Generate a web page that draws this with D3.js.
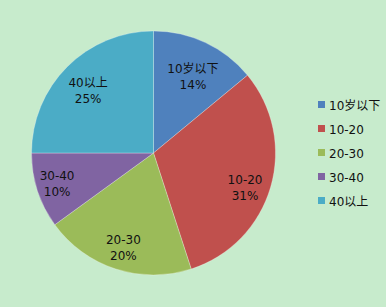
<!DOCTYPE html>
<html><head><meta charset="utf-8">
<script src="https://cdn.jsdelivr.net/npm/d3@7"></script>
<style>
html,body{margin:0;padding:0;background:#c7ebcc;}
svg{display:block;}
text{font-family:"DejaVu Sans","Noto Sans CJK SC",sans-serif;font-size:12px;fill:#111;}
</style></head>
<body>
<svg id="chart" width="386" height="307"></svg>
<script>
const categories = ["10岁以下", "10-20", "20-30", "30-40", "40以上"];
const values = [14, 31, 20, 10, 25];
const colors = ["#4f81bd", "#c0504d", "#9bbb59", "#8064a2", "#4bacc6"];

const svg = d3.select("#chart");
const W = 386, H = 307;
svg.append("rect").attr("width", W).attr("height", H).attr("fill", "#c7ebcc");

const cx = 153.5, cy = 153, R = 122;
const data = categories.map((c, i) => ({cat: c, val: values[i]}));
const pie = d3.pie().value(d => d.val).sort(null);
const arcs = pie(data);
const arc = d3.arc().innerRadius(0).outerRadius(R);
const color = d3.scaleOrdinal().domain(categories).range(colors);
const total = d3.sum(values);

const g = svg.append("g").attr("transform", `translate(${cx},${cy})`);
g.selectAll("path").data(arcs).join("path")
  .attr("d", arc)
  .attr("fill", d => color(d.data.cat))
  .attr("stroke", "rgba(255,255,255,0.35)")
  .attr("stroke-width", 0.8);

// label placement (Excel "best fit" style): radius and small angular nudge per slice
const labelR = d3.scaleOrdinal().domain(categories).range([86, 98, 99, 101, 90.5]);
const labelNudge = d3.scaleOrdinal().domain(categories).range([2.1, 4.7, -0.3, 0.7, -1.3]);
const lab = g.selectAll("g.lab").data(arcs).join("g").attr("class", "lab")
  .attr("transform", d => {
    const a = (d.startAngle + d.endAngle) / 2 + labelNudge(d.data.cat) * Math.PI / 180;
    const r = labelR(d.data.cat);
    return `translate(${Math.sin(a) * r},${-Math.cos(a) * r})`;
  });
lab.append("text").attr("text-anchor", "middle").attr("y", -3.5).text(d => d.data.cat);
lab.append("text").attr("text-anchor", "middle").attr("y", 12.5)
  .text(d => Math.round(d.data.val / total * 100) + "%");

const ly = d3.scalePoint().domain(categories).range([105, 201]);
const leg = svg.selectAll("g.leg").data(categories).join("g").attr("class", "leg")
  .attr("transform", d => `translate(318,${ly(d)})`);
leg.append("rect").attr("x", 0).attr("y", -4).attr("width", 7).attr("height", 7).attr("fill", d => color(d));
leg.append("text").attr("x", 11).attr("y", 4.5).text(d => d);
</script>
</body></html>
